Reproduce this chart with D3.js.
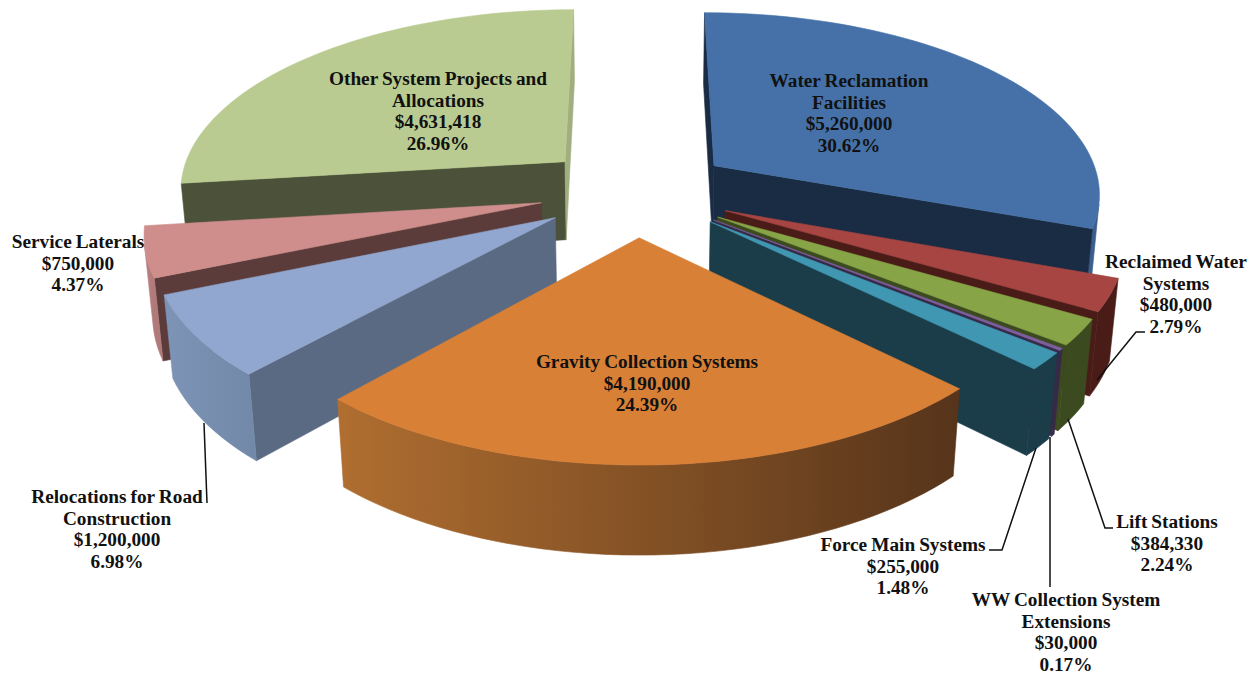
<!DOCTYPE html>
<html>
<head>
<meta charset="utf-8">
<style>
html,body{margin:0;padding:0;background:#fff;}
svg{display:block;}
text{font-family:"Liberation Serif",serif;font-weight:700;fill:#111;word-spacing:-0.8px;}
</style>
<script src="https://cdn.jsdelivr.net/npm/d3@7/dist/d3.min.js"></script>
</head>
<body>
<svg id="chart" width="1258" height="675"></svg>
<script>
// Capital budget shares, clockwise from twelve o'clock
const categories = [
  "Water Reclamation\nFacilities", "Reclaimed Water\nSystems", "Lift Stations",
  "WW Collection System\nExtensions", "Force Main Systems", "Gravity Collection Systems",
  "Relocations for Road\nConstruction", "Service Laterals", "Other System Projects and\nAllocations"
];
const values = [5260000, 480000, 384330, 30000, 255000, 4190000, 1200000, 750000, 4631418];

// Face colours per slice
const topColors   = ["#4571A8","#A64541","#87A447","#7D5F9F","#3F97B1","#D88036","#92A7CF","#CF8E8C","#B9CB90"];
const startWalls  = ["#1A2C44","#4A1C18","#3C4A20","#352A47","#1B3C49","#56341A","#5A6A82","#5B3C3B","#4C5239"];
const endWalls    = ["#1A2C44","#4A1C18","#3C4A20","#352A47","#1B3C49","#B06E30","#7E94B6","#B98080","#A1AF80"];
const outerStart  = ["#3A5F8F","#4A1C18","#3C4A20","#352A47","#1B3C49","#56341A","#7289AA","#B07A7A","#A1AF80"];
const outerEnd    = ["#3A5F8F","#4A1C18","#3C4A20","#352A47","#1B3C49","#B06E30","#7E94B6","#BC8282","#A1AF80"];

// Back-to-front paint order of the exploded slices
const paintOrder = [0, 8, 7, 6, 1, 2, 3, 4, 5];

// Label block centres (x, first-line y) and leader polylines
const labelAnchors = [[849,81],[1176,262],[1167,522],[1066,600],[903,545],[647,362],[117,497],[78,242],[438,79]];
const leaders = [
  [[1145,332],[1136,332],[1097,380]],
  [[1068,419],[1105,528],[1113,528]],
  [[1050,437],[1050,587]],
  [[1036,448],[1002,550],[989,550]],
  [[204,423],[207,503]]
];

// Pinhole camera looking down on the pie
const cam = {cx:636, cy:191, f:2451, D:6.32, sin:0.4665, cos:0.8845};
const explode = 0.25, thickness = 0.235;
function project(X, Y, Z) {
  const zv = cam.D + Y * cam.cos - Z * cam.sin;
  return [cam.cx + cam.f * X / zv, cam.cy - cam.f * (Y * cam.sin + Z * cam.cos) / zv];
}

const total = d3.sum(values);
const money = d3.format("$,");
const pct = d3.format(".2%");
const arcs = d3.pie().sort(null).value(d => d)(values);
const svg = d3.select("#chart");
const defs = svg.append("defs");
const line = d3.line();

function shoelace(p) {
  return d3.sum(p, (a, i) => { const b = p[(i + 1) % p.length]; return a[0] * b[1] - b[0] * a[1]; });
}
function drawFace(g, pts, color) {
  g.append("path").attr("d", line(pts) + "Z").attr("fill", color)
    .attr("stroke", color).attr("stroke-width", 0.6).attr("stroke-linejoin", "round");
}

paintOrder.forEach(i => {
  const a = arcs[i];
  const mid = (a.startAngle + a.endAngle) / 2;
  const ox = explode * Math.sin(mid), oy = explode * Math.cos(mid);
  const steps = Math.max(6, Math.ceil((a.endAngle - a.startAngle) / (Math.PI / 90)));
  const angle = d3.scaleLinear().domain([0, steps]).range([a.startAngle, a.endAngle]);
  const rim = d3.range(steps + 1).map(k => [ox + Math.sin(angle(k)), oy + Math.cos(angle(k))]);
  const apex = [ox, oy];
  const P = (w, z) => project(w[0], w[1], z);
  const g = svg.append("g").attr("class", "slice");
  const faces = (p, q) => shoelace([P(p, 0), P(q, 0), P(q, -thickness), P(p, -thickness)]) < 0;
  const wall = (p, q, color) => {
    if (faces(p, q)) drawFace(g, [P(p, 0), P(q, 0), P(q, -thickness), P(p, -thickness)], color);
  };
  wall(apex, rim[0], startWalls[i]);

  // Curved outer wall: one shape over the camera-facing run of the rim, shaded left to right
  const run = d3.range(steps).filter(k => faces(rim[k], rim[k + 1]));
  if (run.length) {
    const from = run[0], to = run[run.length - 1] + 1;
    const grad = defs.append("linearGradient").attr("id", "outer" + i)
      .attr("gradientUnits", "userSpaceOnUse")
      .attr("x1", P(rim[from], 0)[0]).attr("y1", 0)
      .attr("x2", P(rim[to], 0)[0] + 0.01).attr("y2", 0);
    grad.append("stop").attr("offset", 0).attr("stop-color", outerStart[i]);
    grad.append("stop").attr("offset", 1).attr("stop-color", outerEnd[i]);
    const edge = d3.range(from, to + 1).map(k => rim[k]);
    const outline = edge.map(w => P(w, 0)).concat(edge.slice().reverse().map(w => P(w, -thickness)));
    drawFace(g, outline, `url(#outer${i})`);
  }

  wall(rim[steps], apex, endWalls[i]);
  drawFace(g, [apex, ...rim].map(w => P(w, 0)), topColors[i]);
});

// Leader lines sit over the slices, under the text
svg.append("g").selectAll("path").data(leaders).join("path")
  .attr("d", d => line(d)).attr("fill", "none").attr("stroke", "#111").attr("stroke-width", 1.5);

// Name, amount and share stacked in each label
const labels = svg.append("g").selectAll("text").data(categories).join("text")
  .attr("text-anchor", "middle").attr("font-size", 19.3)
  .attr("transform", (d, i) => `translate(${labelAnchors[i][0]},${labelAnchors[i][1]})`);
labels.each(function(d, i) {
  const rows = d.split("\n").concat([money(values[i]), pct(values[i] / total)]);
  d3.select(this).selectAll("tspan").data(rows).join("tspan")
    .attr("x", 0).attr("y", (r, k) => k * 21.5 + 6).text(r => r);
});
</script>
</body>
</html>
